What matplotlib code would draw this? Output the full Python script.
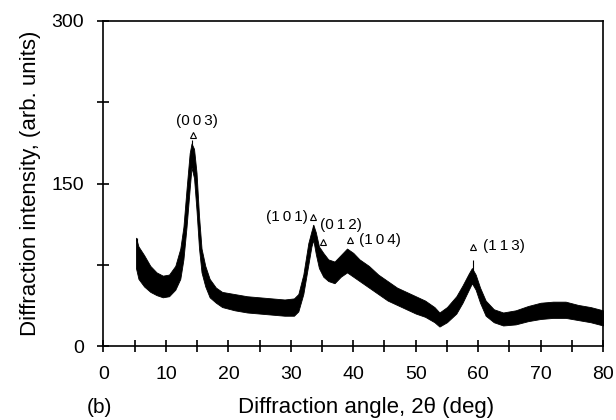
import matplotlib
matplotlib.use("Agg")
import matplotlib.pyplot as plt

plt.rcParams['font.family'] = ['Liberation Sans', 'DejaVu Sans']

# Envelope of the noisy diffraction trace
two_theta = [5.2, 5.6, 6.5, 7.5, 8.5, 9.5, 10.5, 11.5, 12.3, 12.8, 13.3, 13.8, 14.1, 14.5,
             14.9, 15.3, 15.7, 16.3, 17.0, 18, 19, 21, 23, 25, 27, 29, 30.5, 31.2, 32,
             32.8, 33.3, 33.6, 34.0, 34.5, 35.2, 36, 37, 38, 39, 40, 41, 42.5, 44, 45.5,
             47, 48.5, 50, 51.5, 53, 53.8, 55, 56.5, 57.5, 58.5, 59.0, 59.6, 60.3, 61.2,
             62.5, 64, 66, 68, 70, 72, 74, 76, 78, 80]
intensity_low = [72, 62, 55, 50, 47, 45, 46, 52, 62, 80, 110, 145, 165, 155,
                 125, 90, 68, 55, 45, 40, 36, 33, 31, 30, 29, 28, 28, 32, 48,
                 75, 92, 98, 85, 72, 64, 60, 58, 64, 68, 64, 60, 54, 48, 42,
                 38, 34, 30, 27, 22, 18, 22, 30, 40, 52, 58, 52, 40, 28,
                 22, 19, 20, 23, 25, 26, 26, 24, 22, 19]
intensity_high = [100, 92, 84, 74, 68, 65, 66, 74, 90, 110, 145, 178, 187, 182,
                  160, 120, 90, 74, 62, 54, 50, 48, 46, 45, 44, 43, 44, 48, 66,
                  95, 106, 112, 105, 92, 86, 80, 78, 84, 90, 86, 80, 74, 66, 60,
                  54, 50, 46, 42, 36, 31, 36, 46, 56, 67, 72, 66, 54, 42,
                  34, 31, 33, 37, 40, 41, 41, 38, 36, 33]

# Isolated spikes
spike_x = [5.3, 14.2, 33.6, 59.1]
spike_low = [80, 170, 100, 60]
spike_high = [100, 190, 112, 79]

# Peak annotations
peak_labels = ['(0\u20090\u20093)', '(1\u20090\u20091)', '(0\u20091\u20092)',
               '(1\u20090\u20094)', '(1\u20091\u20093)']
marker_x = [14.4, 33.5, 35.1, 39.4, 59.2]
marker_y = [195, 119, 96, 98, 91]
label_x = [14.9, 32.8, 34.6, 40.9, 60.8]
label_y = [208, 119, 112, 98, 92]
label_ha = ['center', 'right', 'left', 'left', 'left']

x_major = [0, 10, 20, 30, 40, 50, 60, 70, 80]
y_major = [0, 150, 300]

fig = plt.figure(figsize=(6.16, 4.2), dpi=100)
ax = fig.add_axes([0.168, 0.176, 0.811, 0.774])

ax.fill_between(two_theta, intensity_low, intensity_high, color='black', linewidth=0.6)
ax.vlines(spike_x, spike_low, spike_high, color='black', linewidth=0.8)

ax.plot(marker_x, marker_y, linestyle='none', marker='^', markersize=5,
        markerfacecolor='white', markeredgecolor='black', markeredgewidth=0.8)
for lab, lx, ly, ha in zip(peak_labels, label_x, label_y, label_ha):
    ax.text(lx, ly, lab, ha=ha, va='center', fontsize=11)

ax.set_xlim(0, 80)
ax.set_ylim(0, 300)
ax.set_xticks(x_major)
ax.set_xticks(list(range(5, 80, 10)), minor=True)
ax.set_yticks(y_major)
ax.set_yticks([75, 225], minor=True)
ax.tick_params(which='both', direction='inout', length=8, width=1.2, labelsize=14)
ax.tick_params(axis='x', which='both', pad=10)
ax.tick_params(axis='y', which='both', pad=10)
for s in ax.spines.values():
    s.set_linewidth(1.2)

ax.set_ylabel('Diffraction intensity, (arb. units)', fontsize=16)
ax.yaxis.set_label_coords(-0.125, 0.5)
fig.text(0.594, 0.029, 'Diffraction angle, 2θ (deg)', ha='center', va='center', fontsize=16)
fig.text(0.162, 0.029, '(b)', ha='center', va='center', fontsize=15)

fig.savefig('out.png', dpi=100)
